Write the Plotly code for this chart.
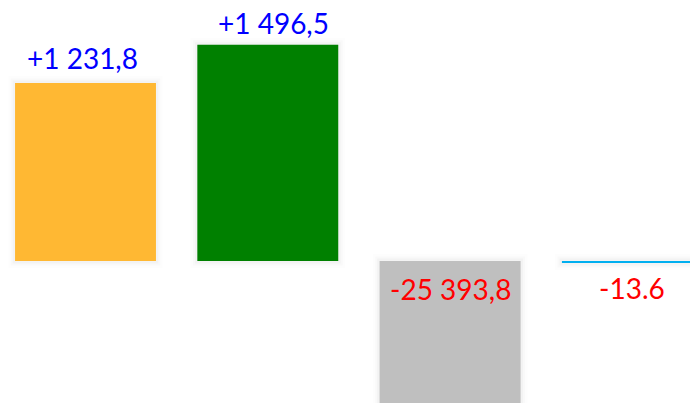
import plotly.graph_objects as go

categories = ["A", "B", "C", "D"]
values = [1231.8, 1496.5, -25393.8, -13.6]
labels = ["+1 231,8", "+1 496,5", "-25 393,8", "-13.6"]
bar_colors = ["#FFB833", "#008000", "#BFBFBF", "#00AEEF"]
label_colors = ["#0000FF", "#0000FF", "#FF0000", "#FF0000"]

# small label offsets (pixels) to mimic the original placement
label_xshift = [-3, 6, 0, 0]
label_yshift = [25, 21.5, -28, -27]

fig = go.Figure()
x = list(range(len(categories)))

# soft shadows behind bars
for lw, a in [(14, 0.008), (9, 0.014), (5, 0.022)]:
    fig.add_trace(go.Bar(
        x=x, y=values, width=0.773,
        marker=dict(color=f"rgba(0,0,0,{a})", line=dict(width=lw, color=f"rgba(0,0,0,{a})")),
        hoverinfo="skip", showlegend=False,
    ))

fig.add_trace(go.Bar(
    x=x, y=values, width=0.773,
    marker=dict(color=bar_colors, line=dict(width=0)),
    hoverinfo="skip", showlegend=False,
))

font_family = "Lato"
for i, (v, t, c) in enumerate(zip(values, labels, label_colors)):
    anchor_y = v if v >= 0 else 0
    fig.add_annotation(x=i, y=anchor_y, text=t, showarrow=False, yanchor="middle",
                       xshift=label_xshift[i], yshift=label_yshift[i],
                       font=dict(family=font_family, size=28, color=c))

fig.update_layout(
    width=690, height=403,
    margin=dict(l=0, r=0, t=0, b=0),
    barmode="overlay",
    plot_bgcolor="white", paper_bgcolor="white",
    xaxis=dict(range=[-0.469, 3.316], visible=False),
    yaxis=dict(range=[-983, 1807], visible=False),
)

fig.write_html("out.html", config={"displayModeBar": False},
               post_script="document.body.style.margin='0';")
